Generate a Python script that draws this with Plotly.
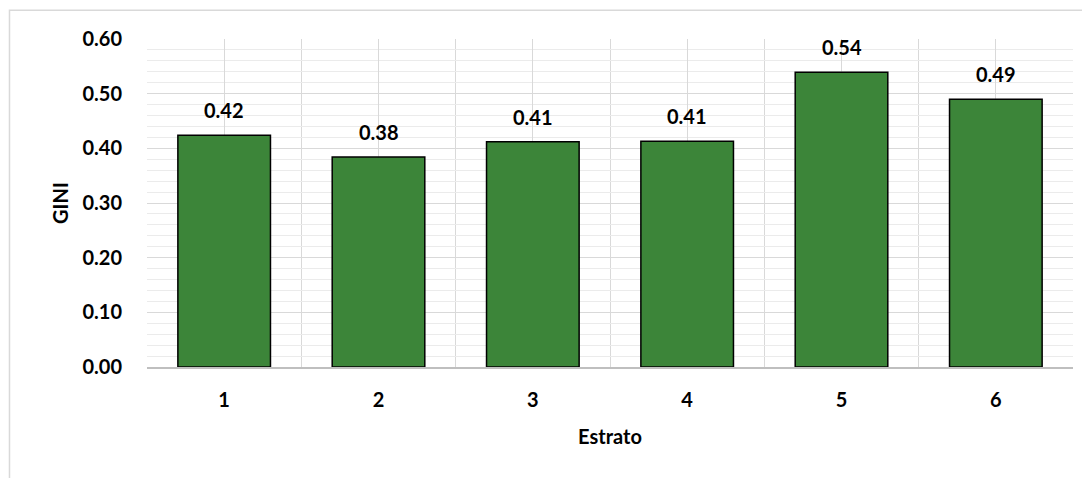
import plotly.graph_objects as go

categories = ["1", "2", "3", "4", "5", "6"]
gini = [0.424, 0.384, 0.412, 0.413, 0.539, 0.490]
labels = ["0.42", "0.38", "0.41", "0.41", "0.54", "0.49"]
y_ticks = [0.0, 0.1, 0.2, 0.3, 0.4, 0.5, 0.6]

pos = list(range(1, len(categories) + 1))
bounds = [p - 0.5 for p in pos] + [pos[-1] + 0.5]

FONT = "Lato"
FS = 20
fig = go.Figure()
fig.add_trace(go.Bar(
    x=pos, y=gini, width=0.6,
    marker=dict(color="#3C8539", line=dict(color="#000000", width=1.5)),
    hoverinfo="skip",
))
for p, v, t in zip(pos, gini, labels):
    fig.add_annotation(x=p, y=v, text=t, showarrow=False, yanchor="bottom", yshift=11,
                       font=dict(family=FONT, size=FS, color="#000000", weight="bold"))

fig.update_layout(
    width=1082, height=470,
    margin=dict(l=139, r=17, t=31, b=111),
    plot_bgcolor="#FFFFFF", paper_bgcolor="#FFFFFF",
    showlegend=False,
    font=dict(family=FONT, color="#000000"),
    xaxis=dict(
        range=[0.5, len(categories) + 0.5],
        tickvals=pos, ticktext=categories,
        tickfont=dict(family=FONT, size=FS, color="#000000", weight="bold"),
        showgrid=True, gridcolor="#D9D9D9", gridwidth=1,
        minor=dict(tickvals=bounds, showgrid=True, gridcolor="#D9D9D9", gridwidth=1),
        ticks="outside", ticklen=14, tickcolor="rgba(0,0,0,0)",
        showline=True, linecolor="#BFBFBF", linewidth=1.5,
        zeroline=False,
        title=dict(text="Estrato", font=dict(family=FONT, size=FS, color="#000000", weight="bold"), standoff=20),
    ),
    yaxis=dict(
        range=[0, 0.6], tickvals=y_ticks, tickformat=".2f",
        tickfont=dict(family=FONT, size=FS, color="#000000", weight="bold"),
        showgrid=True, gridcolor="#D9D9D9", gridwidth=1,
        minor=dict(dtick=0.02, showgrid=True, gridcolor="#EBEBEB", gridwidth=1),
        ticks="outside", ticklen=20, tickcolor="rgba(0,0,0,0)",
        zeroline=False, showline=False,
        title=dict(text="GINI", font=dict(family=FONT, size=FS, color="#000000", weight="bold"), standoff=8),
    ),
)
fig.add_shape(type="rect", xref="paper", yref="paper",
              x0=-0.1485, x1=1.05, y0=-0.40, y1=1.088,
              line=dict(color="#D9D9D9", width=1.5), fillcolor="rgba(0,0,0,0)", layer="below")

fig.write_html("out.html")
